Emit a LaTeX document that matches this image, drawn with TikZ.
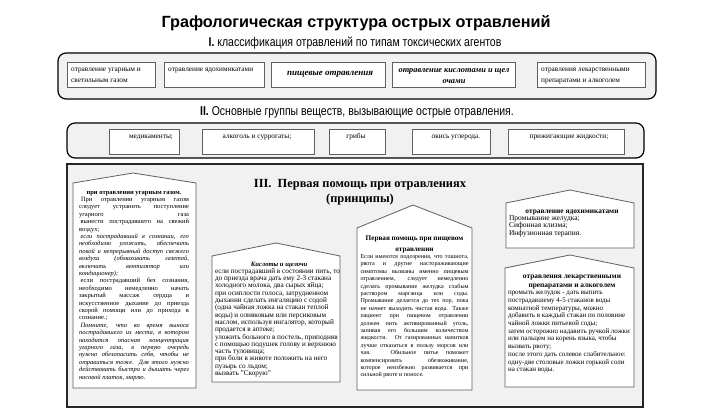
\documentclass[tikz,border=0pt]{standalone}
\usepackage{fontspec}
\setmainfont{Liberation Serif}
\newfontfamily\titlefont{Liberation Sans}
\newfontfamily\narrowfont[FakeStretch=0.82]{Liberation Sans}
\definecolor{panelbg}{RGB}{241,241,241}
\definecolor{boxline}{RGB}{95,95,95}
\newcommand\bodyfont{\fontsize{6.5}{7.4}\selectfont}
\newcommand\setpar{\parindent=0pt\tolerance=10000\hbadness=10000\hyphenpenalty=10000\emergencystretch=0pt}
\begin{document}
\begin{tikzpicture}[x=1pt,y=-1pt,
  panel/.style={draw=black, line width=1.2pt, fill=panelbg, rounded corners=8pt},
  bigpanel/.style={draw=black!85, line width=1.6pt, fill=panelbg},
  ibox/.style={draw=boxline, line width=0.9pt, fill=white},
  house/.style={draw=boxline, line width=0.8pt, fill=white},
  txt/.style={inner sep=0pt, anchor=base},
  ltxt/.style={inner sep=0pt, anchor=base west},
  itemfont/.style={font=\fontsize{7.3}{10}\selectfont},
  headfont/.style={font=\narrowfont\fontsize{12.8}{14}\selectfont}]
\useasboundingbox (0,0) rectangle (710,420);
\fill[white] (0,0) rectangle (710,420);

% title and headings
\node[txt, font=\titlefont\bfseries\fontsize{16.2}{18}\selectfont] (title) at (356,28) {Графологическая структура острых отравлений};
\node[txt, headfont] (h1) at (355,47) {\textbf{I.} классификация отравлений по типам токсических агентов};

% panel I
\path[panel] (58,53) rectangle (656,99);
\draw[ibox] (67,62) rectangle (155,87);
\draw[ibox] (164,62) rectangle (264,87);
\draw[ibox] (271,62) rectangle (385,87);
\draw[ibox] (392,62) rectangle (515,87);
\draw[ibox] (537,62) rectangle (645,87);
\node[ltxt, itemfont] (a1) at (71,72) {\parbox[t]{82pt}{\raggedright отравление угарным и\\светильным газом}};
\node[ltxt, itemfont] (a2) at (168,72) {отравление ядохимикатами};
\node[txt, font=\bfseries\itshape\fontsize{9}{11}\selectfont] (a3) at (330,76) {пищевые отравления};
\node[txt, font=\bfseries\itshape\fontsize{8.3}{11}\selectfont, align=center] (a4) at (454,73) {\parbox[t]{120pt}{\centering отравление кислотами и щел\\очами}};
\node[ltxt, itemfont] (a5) at (541,72) {\parbox[t]{104pt}{\raggedright отравления лекарственными\\препаратами и алкоголем}};

% heading II
\node[txt, headfont] (h2) at (357,115) {\textbf{II.} Основные группы веществ, вызывающие острые отравления.};

% panel II
\path[panel] (67,123) rectangle (644,158);
\draw[ibox] (109,129) rectangle (179,154);
\draw[ibox] (202,129) rectangle (314,154);
\draw[ibox] (329,129) rectangle (385,154);
\draw[ibox] (412,129) rectangle (490,154);
\draw[ibox] (508,129) rectangle (624,154);
\node[txt, itemfont] (g1) at (151,139) {медикаменты;};
\node[txt, itemfont] (g2) at (257,139) {алкоголь и суррогаты;};
\node[txt, itemfont] (g3) at (356,139) {грибы};
\node[txt, itemfont] (g4) at (456,139) {окись углерода.};
\node[txt, itemfont] (g5) at (569,139) {прижигающие жидкости;};

% panel III
\path[bigpanel] (67,164) rectangle (643,407);
\node[txt, font=\bfseries\fontsize{12.4}{15}\selectfont] (h3) at (360,187) {\parbox[t]{260pt}{\centering III.~~Первая помощь при отравлениях\\(принципы)}};

% houses
\draw[house] (73,388) -- (73,183) -- (133,173) -- (196,183) -- (196,388) -- cycle;
\draw[house] (212,382) -- (212,256) -- (276,243) -- (340,256) -- (340,382) -- cycle;
\draw[house] (357,390) -- (357,228) -- (413,205) -- (472,228) -- (472,390) -- cycle;
\draw[house] (506,248) -- (506,203) -- (570,190) -- (634,203) -- (634,248) -- cycle;
\draw[house] (505,387) -- (505,268) -- (570,255) -- (634,268) -- (634,387) -- cycle;

% house 1 text
\node[txt] (t1) at (134,194) {\parbox[t]{110pt}{\bodyfont\setpar
{\centering\bfseries при отравлении угарным газом.\par}
\hspace*{2pt}При отравлении угарным газом\linebreak
следует устранить поступление\linebreak
угарного газа\linebreak
\hspace*{1.5pt}вынести пострадавшего на свежий\linebreak
воздух;\par
{\itshape\hspace*{1.5pt}если пострадавший в сознании, его\linebreak
необходимо уложить, обеспечить\linebreak
покой и непрерывный доступ свежего\linebreak
воздуха (обмахивать газетой,\linebreak
включить вентилятор или\linebreak
кондиционер);\par}
\hspace*{1.5pt}если пострадавший без сознания,\linebreak
необходимо немедленно начать\linebreak
закрытый массаж сердца и\linebreak
искусственное дыхание до приезда\linebreak
скорой помощи или до прихода в\linebreak
сознание.;\par
{\itshape\hspace*{1.5pt}Помните, что во время выноса\linebreak
пострадавшего из места, в котором\linebreak
находится опасная концентрация\linebreak
угарного газа, в первую очередь\linebreak
нужно обезопасить себя, чтобы не\linebreak
отравиться тоже. Для этого нужно\linebreak
действовать быстро и дышать через\linebreak
носовой платок, марлю.\par}}};

% house 2 text
\node[txt] (t2) at (279,266) {\parbox[t]{128pt}{\fontsize{7.2}{7.3}\selectfont\setpar
{\centering\bfseries\itshape\fontsize{6.6}{7.3}\selectfont Кислоты и щелочи\par}
\raggedright
если пострадавший в состоянии пить, то\\
до приезда врача дать ему 2-3 стакана\\
холодного молока, два сырых яйца;\\
при осиплости голоса, затрудненном\\
дыхании сделать ингаляцию с содой\\
(одна чайная ложка на стакан теплой\\
воды) и оливковым или персиковым\\
маслом, используя ингалятор, который\\
продается в аптеке;\\
уложить больного в постель, приподняв\\
с помощью подушек голову и верхнюю\\
часть туловища;\\
при боли в животе положить на него\\
пузырь со льдом;\\
вызвать "Скорую"}};

% house 3 text
\node[txt] (t3) at (414.5,240) {\parbox[t]{108pt}{\setpar
{\centering\bfseries\fontsize{7.2}{11}\selectfont Первая помощь при пищевом\\отравлении\par}
\fontsize{6.1}{7.4}\selectfont
Если имеются подозрения, что тошнота,\linebreak
рвота и другие настораживающие\linebreak
симптомы вызваны именно пищевым\linebreak
отравлением, следует немедленно\linebreak
сделать промывание желудка слабым\linebreak
раствором марганца или соды.\linebreak
Промывание делается до тех пор, пока\linebreak
не начнет выходить чистая вода. Также\linebreak
пациент при пищевом отравлении\linebreak
должен пить активированный уголь,\linebreak
запивая его большим количеством\linebreak
жидкости. От газированных напитков\linebreak
лучше отказаться в пользу морсов или\linebreak
чая. Обильное питье поможет\linebreak
компенсировать обезвоживание,\linebreak
которое неизбежно развивается при\linebreak
сильной рвоте и поносе.\par}};

% house 4 text
\node[txt] (t4) at (572,213) {\parbox[t]{126pt}{\setpar
{\centering\bfseries\fontsize{7.4}{7.4}\selectfont отравление ядохимикатами\par}
\fontsize{7.5}{7.4}\selectfont\raggedright
Промывание желудка;\\
Сифонная клизма;\\
Инфузионная терапия.}};

% house 5 text
\node[txt] (t5) at (572,278) {\parbox[t]{128pt}{\setpar
{\centering\bfseries\fontsize{7.4}{9}\selectfont отравления лекарственными\\препаратами и алкоголем\par}
\fontsize{7.0}{7.7}\selectfont\raggedright
промыть желудок - дать выпить\\
пострадавшему 4-5 стаканов воды\\
комнатной температуры, можно\\
добавить в каждый стакан по половине\\
чайной ложки питьевой соды;\\
затем осторожно надавить ручкой ложки\\
или пальцем на корень языка, чтобы\\
вызвать рвоту;\\
после этого дать солевое слабительное:\\
одну-две столовые ложки горькой соли\\
на стакан воды.}};
\end{tikzpicture}
\end{document}
